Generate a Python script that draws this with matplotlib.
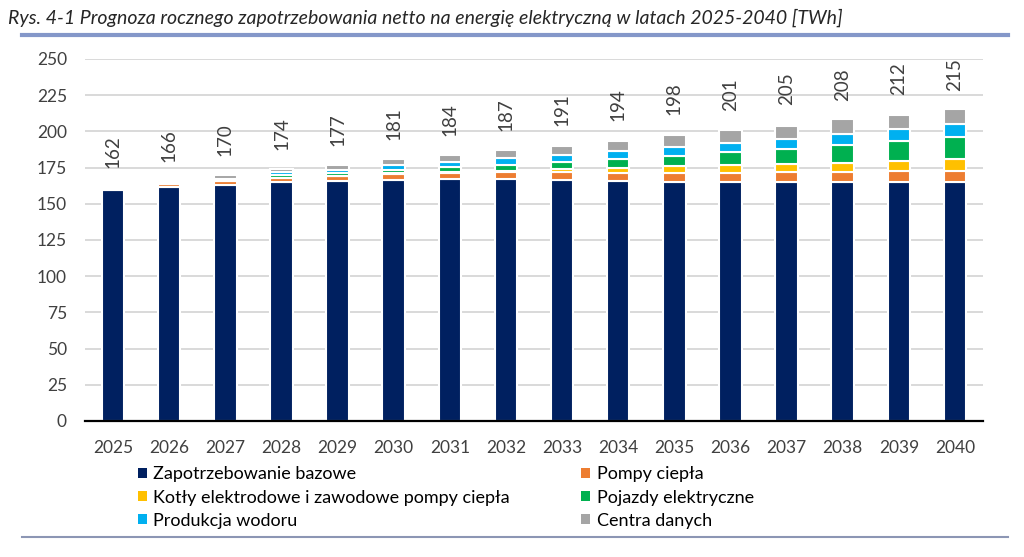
import matplotlib
matplotlib.use("Agg")
import matplotlib.pyplot as plt
from matplotlib.patches import Patch
from matplotlib.lines import Line2D
import numpy as np

plt.rcParams['font.family'] = ['Lato', 'DejaVu Sans']

years = [2025, 2026, 2027, 2028, 2029, 2030, 2031, 2032,
         2033, 2034, 2035, 2036, 2037, 2038, 2039, 2040]

# TWh
bazowe = [159.3, 161.5, 163.1, 164.7, 165.6, 166.5, 167.1, 167.2,
          166.5, 165.5, 165.0, 165.0, 164.8, 164.8, 164.8, 164.8]
pompy = [0.8, 2.0, 2.6, 3.0, 3.3, 4.0, 4.1, 4.5,
         5.4, 5.8, 6.2, 6.2, 6.8, 7.1, 8.1, 8.1]
kotly = [0.1, 0.1, 0.2, 0.4, 0.3, 0.5, 0.6, 0.8,
         1.8, 3.5, 4.8, 5.6, 6.1, 6.5, 6.5, 8.0]
pojazdy = [0.3, 0.3, 0.6, 1.8, 2.0, 2.4, 3.4, 4.5,
           5.2, 6.2, 7.0, 8.7, 10.4, 12.1, 14.0, 15.2]
wodor = [0.5, 0.5, 0.9, 2.0, 2.3, 3.4, 3.8, 4.4,
         4.8, 5.2, 6.0, 6.3, 6.9, 7.7, 7.9, 8.8]
centra = [1.0, 1.0, 2.6, 2.2, 3.2, 4.0, 4.8, 5.8,
          6.4, 6.9, 8.2, 8.9, 9.0, 10.0, 10.2, 10.3]

# totals printed above the bars
totals = [162, 166, 170, 174, 177, 181, 184, 187,
          191, 194, 198, 201, 205, 208, 212, 215]

series = [
    ("Zapotrzebowanie bazowe", bazowe, "#002060"),
    ("Pompy ciepła", pompy, "#ED7D31"),
    ("Kotły elektrodowe i zawodowe pompy ciepła", kotly, "#FFC000"),
    ("Pojazdy elektryczne", pojazdy, "#00B050"),
    ("Produkcja wodoru", wodor, "#00B0F0"),
    ("Centra danych", centra, "#A5A5A5"),
]

txt = "#404040"

fig = plt.figure(figsize=(10.24, 5.57), dpi=100)
ax = fig.add_axes([0.083, 0.2442, 0.877, 0.650])

x = np.arange(len(years))
bottom = np.zeros(len(years))
handles = {}
for name, vals, col in series:
    vals = np.array(vals)
    ax.bar(x, vals, 0.4, bottom=bottom, color=col, edgecolor="white",
           linewidth=1.5, zorder=3)
    bottom = bottom + vals
    handles[name] = Patch(facecolor=col, edgecolor="none")

for xi, t in zip(x, totals):
    ax.text(xi, t + 13, str(t), rotation=90, ha="center", va="bottom",
            fontsize=13.5, color=txt)

ax.set_xlim(-0.5, len(years) - 0.5)
ax.set_ylim(0, 250)
ax.set_yticks(np.arange(0, 251, 25))
ax.set_xticks(x)
ax.set_xticklabels([str(y) for y in years])
ax.yaxis.grid(True, color="#d9d9d9", linewidth=1.4, zorder=0)
ax.set_axisbelow(True)
for s in ["top", "right", "left"]:
    ax.spines[s].set_visible(False)
ax.spines["bottom"].set_color("black")
ax.spines["bottom"].set_linewidth(1.6)
ax.spines["bottom"].set_zorder(4)
ax.tick_params(axis="y", length=0, pad=13, labelsize=12.5, labelcolor=txt)
ax.tick_params(axis="x", length=0, pad=14, labelsize=12.5, labelcolor=txt)

# legend: fill column-wise, so reorder to get the row layout of the original
order = ["Zapotrzebowanie bazowe", "Kotły elektrodowe i zawodowe pompy ciepła",
         "Produkcja wodoru", "Pompy ciepła", "Pojazdy elektryczne", "Centra danych"]
fig.legend([handles[n] for n in order], order, ncol=2, frameon=False,
           loc="upper left", bbox_to_anchor=(0.119, 0.192),
           fontsize=13, handlelength=0.5, handleheight=0.5,
           handletextpad=0.35, columnspacing=3.95, labelspacing=0.4,
           labelcolor="black")

fig.text(0.008, 1 - 18 / 557, "Rys. 4-1 Prognoza rocznego zapotrzebowania netto na energię "
         "elektryczną w latach 2025-2040 [TWh]", fontsize=14, style="italic",
         color="#262626", va="center", ha="left")
fig.add_artist(Line2D([22 / 1024, 1008 / 1024], [1 - 35 / 557] * 2, lw=3,
                      color="#8497C9", transform=fig.transFigure))
fig.add_artist(Line2D([22 / 1024, 1008 / 1024], [1 - 537 / 557] * 2, lw=1.5,
                      color="#8C96B4", transform=fig.transFigure))

fig.savefig("out.png", dpi=100)
